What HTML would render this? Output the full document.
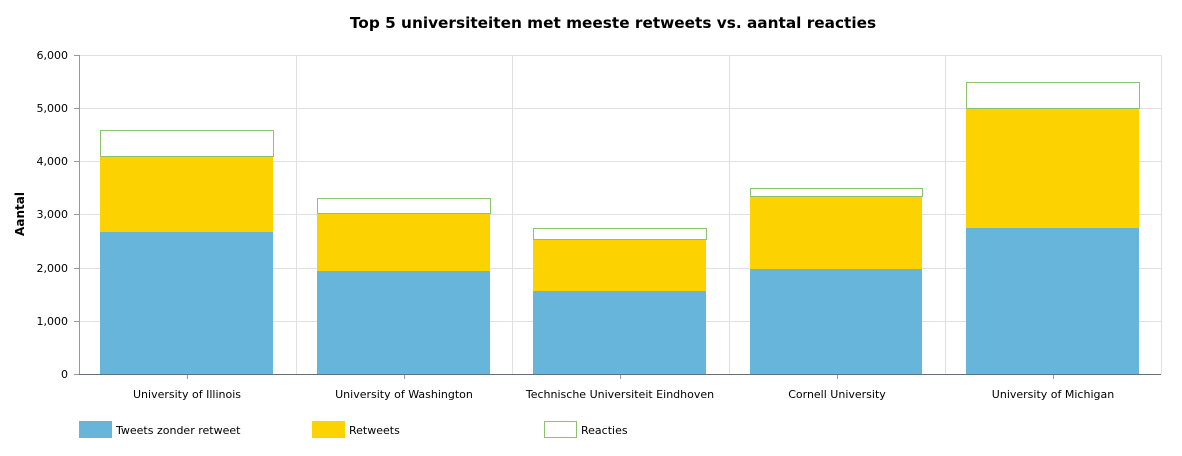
<!DOCTYPE html>
<html><head><meta charset="utf-8"><style>body{margin:0;background:#fff}svg{display:block}text{font-family:"DejaVu Sans","Liberation Sans",sans-serif;fill:#000}</style></head>
<body>
<svg width="1182" height="456" xmlns="http://www.w3.org/2000/svg">
<text x="613" y="28" text-anchor="middle" font-size="15.3" font-weight="bold">Top 5 universiteiten met meeste retweets vs. aantal reacties</text>
<g stroke="#e0e0e0" stroke-width="1">
<line x1="79" y1="55.5" x2="1161" y2="55.5"/><line x1="79" y1="108.5" x2="1161" y2="108.5"/><line x1="79" y1="161.5" x2="1161" y2="161.5"/><line x1="79" y1="214.5" x2="1161" y2="214.5"/><line x1="79" y1="268.5" x2="1161" y2="268.5"/><line x1="79" y1="321.5" x2="1161" y2="321.5"/>
<line x1="296.5" y1="55" x2="296.5" y2="374"/><line x1="512.5" y1="55" x2="512.5" y2="374"/><line x1="729.5" y1="55" x2="729.5" y2="374"/><line x1="945.5" y1="55" x2="945.5" y2="374"/><line x1="1161.5" y1="55" x2="1161.5" y2="374"/>
</g>
<g stroke="#999">
<line x1="79.5" y1="55" x2="79.5" y2="374"/>
<line x1="74" y1="55.5" x2="79" y2="55.5"/><line x1="74" y1="108.5" x2="79" y2="108.5"/><line x1="74" y1="161.5" x2="79" y2="161.5"/><line x1="74" y1="214.5" x2="79" y2="214.5"/><line x1="74" y1="268.5" x2="79" y2="268.5"/><line x1="74" y1="321.5" x2="79" y2="321.5"/><line x1="74" y1="374.5" x2="79" y2="374.5"/>
<line x1="187.5" y1="374" x2="187.5" y2="379"/><line x1="404.5" y1="374" x2="404.5" y2="379"/><line x1="620.5" y1="374" x2="620.5" y2="379"/><line x1="837.5" y1="374" x2="837.5" y2="379"/><line x1="1053.5" y1="374" x2="1053.5" y2="379"/>
</g>
<g font-size="11" text-anchor="end">
<text x="68" y="59">6,000</text><text x="68" y="112">5,000</text><text x="68" y="165">4,000</text><text x="68" y="218">3,000</text><text x="68" y="272">2,000</text><text x="68" y="325">1,000</text><text x="68" y="378">0</text>
</g>
<text transform="translate(24,214) rotate(-90)" text-anchor="middle" font-size="12" font-weight="bold">Aantal</text>
<g fill="#68b5dc">
<rect x="100" y="232" width="173" height="142"/><rect x="317" y="271" width="173" height="103"/><rect x="533" y="291" width="173" height="83"/><rect x="750" y="269" width="172" height="105"/><rect x="966" y="228" width="173" height="146"/>
</g>
<g fill="#fcd200">
<rect x="100" y="156" width="173" height="76"/><rect x="317" y="213" width="173" height="58"/><rect x="533" y="239" width="173" height="52"/><rect x="750" y="196" width="172" height="73"/><rect x="966" y="108" width="173" height="120"/>
</g>
<g fill="#fff" stroke="#8dc26f" stroke-width="1">
<rect x="100.5" y="130.5" width="173" height="26"/><rect x="317.5" y="198.5" width="173" height="15"/><rect x="533.5" y="228.5" width="173" height="11"/><rect x="750.5" y="188.5" width="172" height="8"/><rect x="966.5" y="82.5" width="173" height="26"/>
</g>
<line x1="79" y1="374.5" x2="1161" y2="374.5" stroke="#607080"/>
<g font-size="11" text-anchor="middle">
<text x="187" y="398">University of Illinois</text><text x="404" y="398">University of Washington</text><text x="620" y="398">Technische Universiteit Eindhoven</text><text x="837" y="398">Cornell University</text><text x="1053" y="398">University of Michigan</text>
</g>
<rect x="79" y="421" width="33" height="17" fill="#68b5dc"/><text x="116" y="434" font-size="11">Tweets zonder retweet</text>
<rect x="312" y="421" width="33" height="17" fill="#fcd200"/><text x="349" y="434" font-size="11">Retweets</text>
<rect x="544.5" y="421.5" width="32" height="16" fill="#fff" stroke="#8dc26f"/><text x="581" y="434" font-size="11">Reacties</text>
</svg>
</body></html>
